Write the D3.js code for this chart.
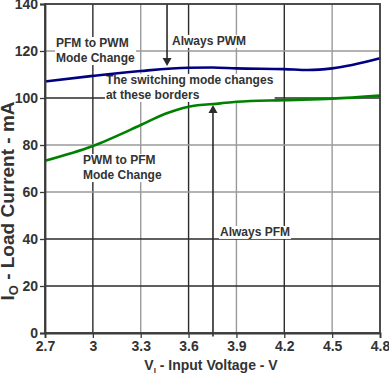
<!DOCTYPE html>
<html>
<head>
<meta charset="utf-8">
<script src="https://cdn.jsdelivr.net/npm/d3@7/dist/d3.min.js"></script>
<style>
  html, body { margin: 0; padding: 0; background: #fff; }
  svg { display: block; }
  text { font-family: "Liberation Sans", Arial, sans-serif; font-weight: bold; fill: #333; }
</style>
</head>
<body>
<svg id="chart" width="389" height="374"></svg>
<script>
// ---- data ----
const xTicks = [2.7, 3.0, 3.3, 3.6, 3.9, 4.2, 4.5, 4.8];
const xTickLabels = ["2.7", "3", "3.3", "3.6", "3.9", "4.2", "4.5", "4.8"];
const yTicks = [0, 20, 40, 60, 80, 100, 120, 140];
const darkX = [3.0, 3.6, 4.2];
const darkY = [20, 40, 100];

const pfmToPwmV = [2.7, 3.0, 3.3, 3.6, 3.75, 3.9, 4.2, 4.35, 4.5, 4.8];
const pfmToPwmI = [107.0, 109.4, 111.5, 112.9, 113.0, 112.6, 112.3, 111.9, 112.6, 116.9];

const pwmToPfmV = [2.7, 3.0, 3.3, 3.45, 3.6, 3.8, 3.9, 4.2, 4.5, 4.8];
const pwmToPfmI = [73.3, 79.6, 88.5, 93.2, 96.3, 97.7, 98.4, 99.1, 99.7, 101.0];

const labels = [
  { lines: ["PFM to PWM", "Mode Change"], v: 2.769, i: 121.7 },
  { lines: ["Always PWM"], v: 3.496, i: 122.6 },
  { lines: ["The switching mode changes", "at these borders"], v: 3.082, i: 106.0 },
  { lines: ["PWM to PFM", "Mode Change"], v: 2.938, i: 71.9 },
  { lines: ["Always PFM"], v: 3.797, i: 41.3 }
];
const arrows = [
  { v: 3.465, from: 140, to: 113.6 },
  { v: 3.753, from: -1.5, to: 97.0 }
];

// ---- layout ----
const svg = d3.select("#chart");
const L = 45, R = 380, T = 4, B = 333;
const x = d3.scaleLinear().domain([2.7, 4.8]).range([L, R]);
const y = d3.scaleLinear().domain([0, 140]).range([B, T]);

const DARK = "#2b2b2b", GRAY = "#9a9a9a";

// grid
const g = svg.append("g");
xTicks.slice(1, -1).forEach(v => {
  g.append("line").attr("x1", x(v)).attr("x2", x(v)).attr("y1", y(0)).attr("y2", y(140))
    .attr("stroke", darkX.includes(v) ? DARK : GRAY).attr("stroke-width", 1.4);
});
yTicks.slice(1, -1).forEach(v => {
  g.append("line").attr("x1", x(2.7)).attr("x2", x(4.8)).attr("y1", y(v)).attr("y2", y(v))
    .attr("stroke", darkY.includes(v) ? DARK : GRAY).attr("stroke-width", 1.4);
});

// arrows
arrows.forEach(a => {
  const dir = a.to < a.from ? 1 : -1;
  const tipY = y(a.to);
  const baseY = tipY - dir * 8;
  svg.append("line").attr("x1", x(a.v)).attr("x2", x(a.v))
    .attr("y1", y(a.from)).attr("y2", baseY)
    .attr("stroke", DARK).attr("stroke-width", 1.6);
  svg.append("path")
    .attr("d", `M${x(a.v)},${tipY} L${x(a.v) - 4.5},${baseY} L${x(a.v) + 4.5},${baseY} Z`)
    .attr("fill", DARK);
});

// labels with white backgrounds
labels.forEach(lb => {
  const grp = svg.append("g");
  const texts = lb.lines.map((s, k) =>
    grp.append("text").attr("font-size", 12).attr("x", x(lb.v)).attr("y", y(lb.i) + k * 15).text(s));
  const boxes = texts.map(t => t.node().getBBox());
  const x0 = d3.min(boxes, b => b.x), x1 = d3.max(boxes, b => b.x + b.width);
  const y0 = d3.min(boxes, b => b.y), y1 = d3.max(boxes, b => b.y + b.height);
  grp.insert("rect", "text").attr("x", x0 - 1).attr("y", y0 + 1)
    .attr("width", x1 - x0 + 2).attr("height", y1 - y0 - 1).attr("fill", "#fff");
});

// curves
const line = d3.line().curve(d3.curveMonotoneX).x(d => x(d[0])).y(d => y(d[1]));
svg.append("path").datum(d3.zip(pwmToPfmV, pwmToPfmI)).attr("d", line)
  .attr("fill", "none").attr("stroke", "#008000").attr("stroke-width", 2.6);
svg.append("path").datum(d3.zip(pfmToPwmV, pfmToPwmI)).attr("d", line)
  .attr("fill", "none").attr("stroke", "#000080").attr("stroke-width", 2.6);

// frame
svg.append("rect").attr("x", L).attr("y", T).attr("width", R - L).attr("height", B - T)
  .attr("fill", "none").attr("stroke", "#3a3a3a").attr("stroke-width", 1.8);

// axes
const xAxis = d3.axisBottom(x).tickValues(xTicks).tickFormat((d, i) => xTickLabels[i]).tickSize(5).tickPadding(3);
const yAxis = d3.axisLeft(y).tickValues(yTicks).tickSize(5).tickPadding(2);
const gx = svg.append("g").attr("transform", `translate(0,${B})`).call(xAxis);
const gy = svg.append("g").attr("transform", `translate(${L},0)`).call(yAxis);
[gx, gy].forEach(a => {
  a.select(".domain").attr("stroke", "#3a3a3a").attr("stroke-width", 1.8);
  a.selectAll(".tick line").attr("stroke", "#3a3a3a").attr("stroke-width", 1.3);
  a.selectAll(".tick text").attr("font-size", 14).attr("font-family", "Liberation Sans, Arial, sans-serif")
    .attr("font-weight", "bold").attr("fill", "#333");
});

// axis titles
const xt = svg.append("text").attr("x", 211).attr("y", 370).attr("text-anchor", "middle").attr("font-size", 14);
xt.append("tspan").text("V");
xt.append("tspan").attr("font-size", 8).attr("dy", 3).text("I");
xt.append("tspan").attr("dy", -3).text(" - Input Voltage - V");

const yt = svg.append("text").attr("transform", "translate(14,201) rotate(-90)")
  .attr("text-anchor", "middle").attr("font-size", 19);
yt.append("tspan").text("I");
yt.append("tspan").attr("font-size", 13).attr("dy", 4).text("O");
yt.append("tspan").attr("dy", -4).text(" - Load Current - mA");
</script>
</body>
</html>
